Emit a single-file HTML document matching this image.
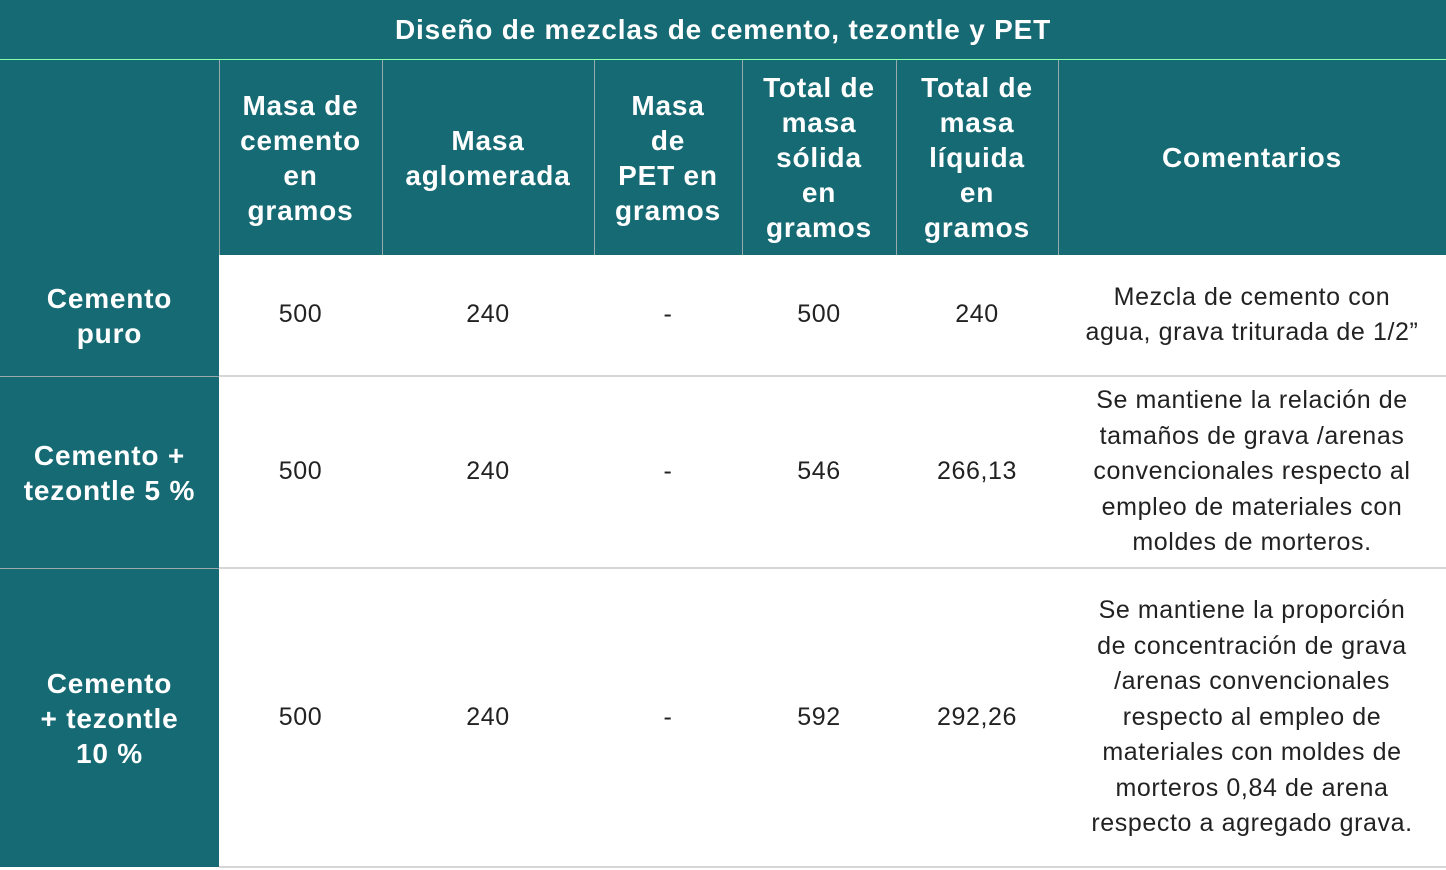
<!DOCTYPE html>
<html><head><meta charset="utf-8"><style>
body{margin:0;width:1446px;height:870px;background:#fff;position:relative;overflow:hidden;font-family:"Liberation Sans",sans-serif}
.c{position:absolute;display:flex;align-items:center;justify-content:center;text-align:center;box-sizing:border-box}
.t{background:#156a73;color:#fff;font-weight:bold;font-size:28px;line-height:35px;letter-spacing:0.8px}
.b{color:#222;font-size:25px;line-height:35.5px;letter-spacing:0.6px}
.vl{position:absolute;width:1px;background:#9aa;}
.hl{position:absolute;height:2px;background:#d6d6d6;}
</style></head><body>
<div class="c t" style="left:0;top:0;width:1446px;height:59px">Diseño de mezclas de cemento, tezontle y PET</div>
<div class="hl" style="left:0;top:59px;width:1446px;height:1px;background:#8fa"></div>
<div class="c t" style="left:0;top:60px;width:1446px;height:195px"></div>
<div class="c t" style="left:219px;top:60px;width:163px;height:195px">Masa de<br>cemento<br>en<br>gramos</div>
<div class="c t" style="left:382px;top:60px;width:212px;height:195px">Masa<br>aglomerada</div>
<div class="c t" style="left:594px;top:60px;width:148px;height:195px">Masa<br>de<br>PET en<br>gramos</div>
<div class="c t" style="left:742px;top:60px;width:154px;height:195px">Total de<br>masa<br>sólida<br>en<br>gramos</div>
<div class="c t" style="left:896px;top:60px;width:162px;height:195px">Total de<br>masa<br>líquida<br>en<br>gramos</div>
<div class="c t" style="left:1058px;top:60px;width:388px;height:195px">Comentarios</div>
<div class="vl" style="left:219px;top:60px;height:195px"></div>
<div class="vl" style="left:382px;top:60px;height:195px"></div>
<div class="vl" style="left:594px;top:60px;height:195px"></div>
<div class="vl" style="left:742px;top:60px;height:195px"></div>
<div class="vl" style="left:896px;top:60px;height:195px"></div>
<div class="vl" style="left:1058px;top:60px;height:195px"></div>

<div class="c t" style="left:0;top:255px;width:219px;height:121px">Cemento<br>puro</div>
<div class="c t" style="left:0;top:377px;width:219px;height:191px">Cemento +<br>tezontle 5 %</div>
<div class="c t" style="left:0;top:569px;width:219px;height:298px">Cemento<br>+ tezontle<br>10 %</div>
<div class="hl" style="left:0;top:376px;width:219px;height:1px;background:#9aa"></div>
<div class="hl" style="left:0;top:568px;width:219px;height:1px;background:#9aa"></div>
<div class="hl" style="left:219px;top:375px;width:1227px"></div>
<div class="hl" style="left:219px;top:567px;width:1227px"></div>
<div class="hl" style="left:219px;top:866px;width:1227px"></div>

<!-- row 1 -->
<div class="c b" style="left:219px;top:255px;width:163px;height:120px">500</div>
<div class="c b" style="left:382px;top:255px;width:212px;height:120px">240</div>
<div class="c b" style="left:594px;top:255px;width:148px;height:120px">-</div>
<div class="c b" style="left:742px;top:255px;width:154px;height:120px">500</div>
<div class="c b" style="left:896px;top:255px;width:162px;height:120px">240</div>
<div class="c b" style="left:1058px;top:255px;width:388px;height:120px">Mezcla de cemento con<br>agua, grava triturada de 1/2”</div>
<!-- row 2 -->
<div class="c b" style="left:219px;top:377px;width:163px;height:190px">500</div>
<div class="c b" style="left:382px;top:377px;width:212px;height:190px">240</div>
<div class="c b" style="left:594px;top:377px;width:148px;height:190px">-</div>
<div class="c b" style="left:742px;top:377px;width:154px;height:190px">546</div>
<div class="c b" style="left:896px;top:377px;width:162px;height:190px">266,13</div>
<div class="c b" style="left:1058px;top:377px;width:388px;height:190px">Se mantiene la relación de<br>tamaños de grava /arenas<br>convencionales respecto al<br>empleo de materiales con<br>moldes de morteros.</div>
<!-- row 3 -->
<div class="c b" style="left:219px;top:569px;width:163px;height:297px">500</div>
<div class="c b" style="left:382px;top:569px;width:212px;height:297px">240</div>
<div class="c b" style="left:594px;top:569px;width:148px;height:297px">-</div>
<div class="c b" style="left:742px;top:569px;width:154px;height:297px">592</div>
<div class="c b" style="left:896px;top:569px;width:162px;height:297px">292,26</div>
<div class="c b" style="left:1058px;top:569px;width:388px;height:297px">Se mantiene la proporción<br>de concentración de grava<br>/arenas convencionales<br>respecto al empleo de<br>materiales con moldes de<br>morteros 0,84 de arena<br>respecto a agregado grava.</div>
</body></html>
